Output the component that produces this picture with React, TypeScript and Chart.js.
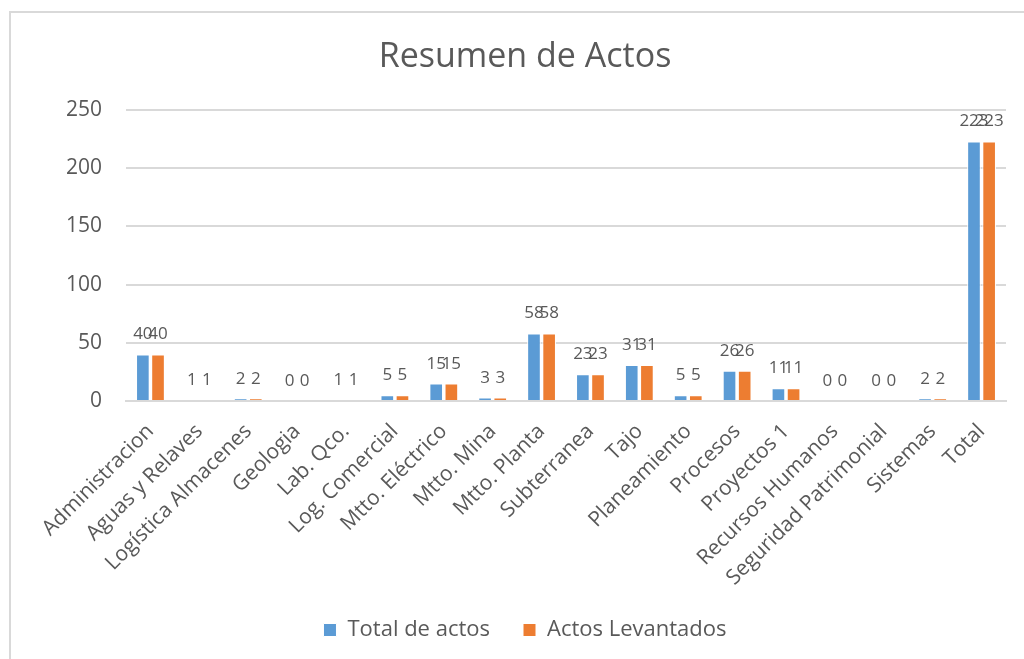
import React, { useEffect, useRef } from "react";
import { Chart, registerables } from "chart.js";

Chart.register(...registerables);

const categories = [
  "Administracion",
  "Aguas y Relaves",
  "Logística Almacenes",
  "Geologia",
  "Lab. Qco.",
  "Log. Comercial",
  "Mtto. Eléctrico",
  "Mtto. Mina",
  "Mtto. Planta",
  "Subterranea",
  "Tajo",
  "Planeamiento",
  "Procesos",
  "Proyectos 1",
  "Recursos Humanos",
  "Seguridad Patrimonial",
  "Sistemas",
  "Total",
];

const totalDeActos = [40, 1, 2, 0, 1, 5, 15, 3, 58, 23, 31, 5, 26, 11, 0, 0, 2, 223];
const actosLevantados = [40, 1, 2, 0, 1, 5, 15, 3, 58, 23, 31, 5, 26, 11, 0, 0, 2, 223];

const yTicks = [0, 50, 100, 150, 200, 250];

const FONT = "'Open Sans', sans-serif";

const dataLabelPlugin = {
  id: "dataLabels",
  afterDatasetsDraw(chart: any) {
    const ctx = chart.ctx;
    ctx.save();
    ctx.font = `17px ${FONT}`;
    ctx.fillStyle = "#595959";
    ctx.textAlign = "center";
    ctx.textBaseline = "alphabetic";
    chart.data.datasets.forEach((ds: any, di: number) => {
      const meta = chart.getDatasetMeta(di);
      meta.data.forEach((bar: any, i: number) => {
        const v = ds.data[i];
        ctx.fillText(String(v), bar.x, bar.y - 15);
      });
    });
    ctx.restore();
  },
};

export default function App() {
  const ref = useRef<HTMLCanvasElement | null>(null);
  useEffect(() => {
    if (!ref.current) return;
    const chart = new Chart(ref.current, {
      type: "bar",
      data: {
        labels: categories,
        datasets: [
          {
            label: "Total de actos",
            data: totalDeActos,
            backgroundColor: "#5B9BD5",
            borderColor: "#ffffff",
            borderWidth: 1,
            categoryPercentage: 0.62,
            barPercentage: 0.9,
          },
          {
            label: "Actos Levantados",
            data: actosLevantados,
            backgroundColor: "#ED7D31",
            borderColor: "#ffffff",
            borderWidth: 1,
            categoryPercentage: 0.62,
            barPercentage: 0.9,
          },
        ],
      },
      options: {
        animation: false,
        responsive: false,
        maintainAspectRatio: false,
        layout: { padding: { left: 44, right: 18, top: 0, bottom: 8 } },
        plugins: {
          title: {
            display: true,
            text: "Resumen de Actos",
            color: "#595959",
            font: { family: FONT, size: 34, weight: "normal" },
            padding: { top: 36.6, bottom: 32.6 },
          },
          legend: {
            position: "bottom",
            labels: {
              color: "#595959",
              font: { family: FONT, size: 22 },
              boxWidth: 13,
              boxHeight: 13,
              padding: 33,
            },
          },
          tooltip: { enabled: false },
        },
        scales: {
          x: {
            grid: { display: false },
            border: { display: true, color: "#D9D9D9", width: 2 },
            afterFit: (scale: any) => {
              scale.height = 185;
            },
            ticks: {
              color: "#595959",
              font: { family: FONT, size: 21 },
              minRotation: 45,
              maxRotation: 45,
              autoSkip: false,
              padding: 10,
            },
          },
          y: {
            min: 0,
            max: 250,
            afterBuildTicks: (scale: any) => {
              scale.ticks = yTicks.map((v) => ({ value: v }));
            },
            afterFit: (scale: any) => {
              scale.width = 82;
            },
            grid: { color: "#D9D9D9", lineWidth: 2, drawTicks: false },
            border: { display: false },
            ticks: {
              color: "#595959",
              font: { family: FONT, size: 21 },
              padding: 24,
            },
          },
        },
      },
      plugins: [dataLabelPlugin],
    });
    return () => chart.destroy();
  }, []);
  return (
    <div style={{ position: "fixed", left: 0, top: 0, width: 1024, height: 659, background: "#fff", overflow: "hidden" }}>
      <div
        style={{
          position: "absolute",
          left: 9,
          top: 11,
          width: 1030,
          height: 660,
          border: "2px solid #D9D9D9",
        }}
      />
      <canvas ref={ref} width={1024} height={659} style={{ position: "absolute", left: 0, top: 0 }} />
    </div>
  );
}
